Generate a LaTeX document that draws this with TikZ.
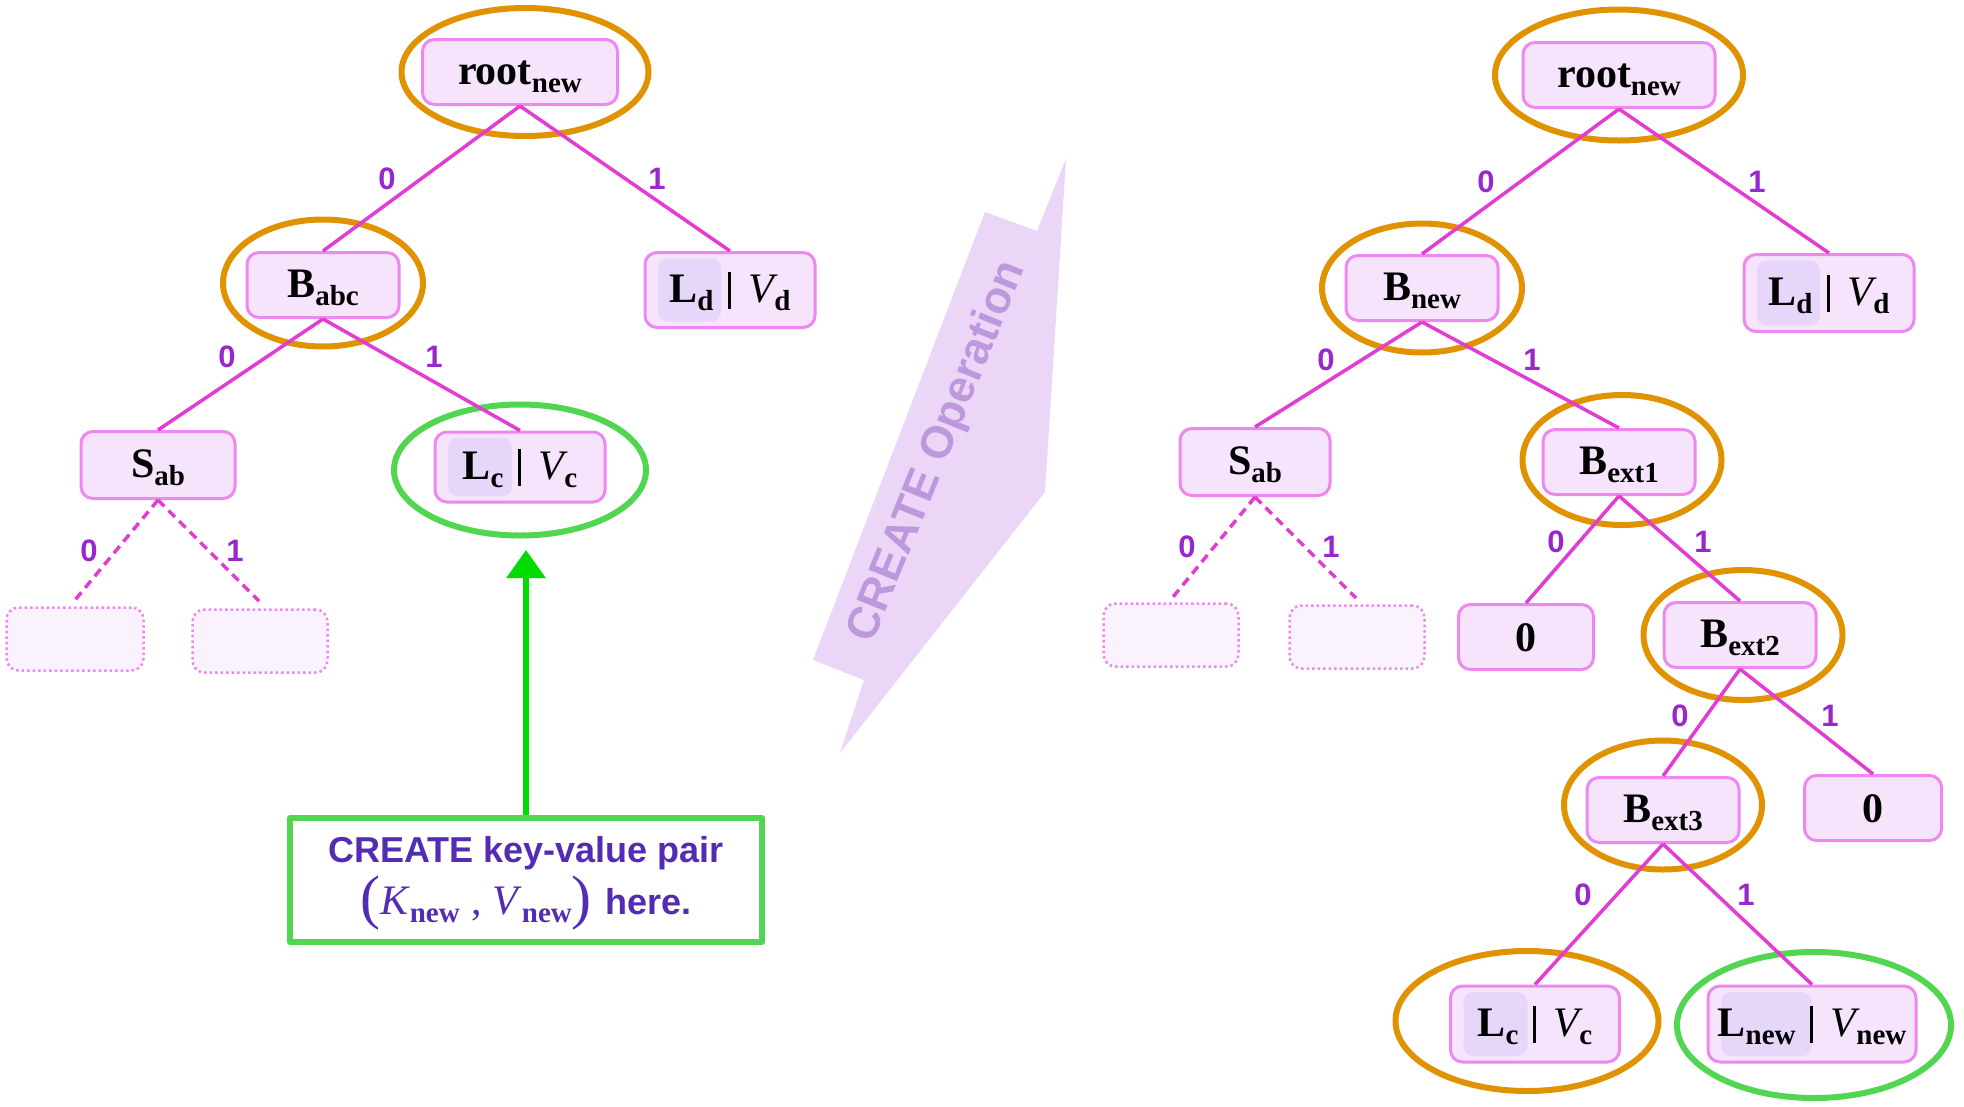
\documentclass[tikz,border=0pt]{standalone}
\usepackage{fontspec}
\setmainfont{Liberation Serif}
\setsansfont{Liberation Sans}
\usetikzlibrary{shapes.geometric,arrows.meta}
\definecolor{boxfill}{RGB}{246,228,252}
\definecolor{boxline}{RGB}{238,136,240}
\definecolor{shadecol}{RGB}{230,214,250}
\definecolor{edgecol}{RGB}{226,60,210}
\definecolor{labcol}{RGB}{152,40,204}
\definecolor{ringor}{RGB}{224,146,0}
\definecolor{ringgr}{RGB}{82,214,82}
\definecolor{arrowgr}{RGB}{0,220,0}
\definecolor{ghostfill}{RGB}{250,242,254}
\definecolor{createfill}{RGB}{235,214,248}
\definecolor{createtext}{RGB}{190,152,220}
\definecolor{notetext}{RGB}{84,44,180}
\newcommand\mysub[1]{\raisebox{-8pt}{\fontsize{29}{29}\selectfont #1}}
\newcommand\lvbar{\hspace{14pt}\rule[-7pt]{3.2pt}{37pt}\hspace{18pt}}
\tikzset{
  tbox/.style={rounded corners=12pt, fill=boxfill, draw=boxline, line width=3pt,
    minimum width=152pt, minimum height=65pt, inner sep=0pt,
    text height=28pt, text depth=4pt, font=\fontsize{42}{50}\selectfont\bfseries},
  lbox/.style={tbox, minimum width=170pt, minimum height=75pt,
    path picture={\fill[shadecol,rounded corners=10pt]
      ([xshift=13pt,yshift=-6pt]path picture bounding box.north west) rectangle
      ([xshift=#1,yshift=6pt]path picture bounding box.south west);}},
  ghost/.style={rounded corners=12pt, fill=ghostfill, draw=boxline, line width=2.5pt,
    dash pattern=on 2.5pt off 3pt, minimum width=135pt, minimum height=63pt},
  ring/.style={ellipse, draw=ringor, line width=6pt, inner sep=0pt},
  gring/.style={ring, draw=ringgr},
  link/.style={draw=edgecol, line width=3.5pt},
  dlink/.style={link, dash pattern=on 9pt off 6pt},
  lab/.style={text=labcol, font=\sffamily\bfseries\fontsize{31}{31}\selectfont, inner sep=0pt}
}
\begin{document}
\begin{tikzpicture}[x=1pt,y=-1pt]
\fill[white] (0,0) rectangle (1964,1106);
\useasboundingbox (0,0) rectangle (1964,1106);

% CREATE operation arrow
\fill[createfill] (1066,159) -- (1045,492) -- (840,753) -- (864,680) -- (813,660) -- (985,212) -- (1037,231) -- cycle;
\node[rotate=68, text=createtext, font=\sffamily\bfseries\fontsize{45}{45}\selectfont] (ctext) at (938,452) {CREATE Operation};

% ---------------- left tree ----------------
\node[tbox, minimum width=195pt] (Lroot) at (520,72) {root\mysub{new}};
\node[tbox] (LBabc) at (323,285) {B\mysub{abc}};
\node[lbox=76pt] (LLd) at (730,290) {L\mysub{d}\lvbar{\mdseries\itshape V}\mysub{d}};
\node[tbox, minimum width=154pt, minimum height=67pt] (LSab) at (158,465) {S\mysub{ab}};
\node[lbox=77pt, minimum height=70pt] (LLc) at (520,467) {L\mysub{c}\lvbar{\mdseries\itshape V}\mysub{c}};
\node[ghost, minimum width=137pt] (Lg1) at (75,639) {};
\node[ghost] (Lg2) at (260,641) {};

\node[ring, minimum width=247pt, minimum height=128pt] (LrRoot) at (525,72) {};
\node[ring, minimum width=200pt, minimum height=127pt] (LrB) at (323,283) {};
\node[gring, minimum width=252pt, minimum height=131pt] (LrLc) at (520,470) {};

\draw[link] (Lroot.south) -- (LBabc.north);
\draw[link] (Lroot.south) -- (LLd.north);
\draw[link] (LBabc.south) -- (LSab.north);
\draw[link] (LBabc.south) -- (LLc.north);
\coordinate (Lg1t) at (75,600);
\coordinate (Lg2t) at (259,601);
\draw[dlink] (LSab.south) -- (Lg1t);
\draw[dlink] (LSab.south) -- (Lg2t);

\node[lab] (la1) at (387,179) {0};
\node[lab] (la2) at (657,179) {1};
\node[lab] (la3) at (227,357) {0};
\node[lab] (la4) at (434,357) {1};
\node[lab] (la5) at (89,551) {0};
\node[lab] (la6) at (235,551) {1};

% note box and arrow
\node[draw=ringgr, line width=6pt, line join=round, minimum width=472pt, minimum height=124pt,
  align=center, text=notetext, inner sep=0pt, font=\fontsize{36}{52}\selectfont] (note) at (526,880)
  {{\sffamily\bfseries CREATE key-value pair}\\
   {\fontsize{42}{52}\selectfont\raisebox{-3pt}[0pt][0pt]{\fontsize{60}{60}\selectfont(}\textit{K}\mysub{\bfseries new}\hspace{12pt},\hspace{10pt}\textit{V}\mysub{\bfseries new}\raisebox{-3pt}[0pt][0pt]{\fontsize{60}{60}\selectfont)}}\hspace{14pt}{\sffamily\bfseries here.}};
\coordinate (tipL) at (526,550);
\draw[draw=arrowgr, line width=6pt, -{Triangle[width=38pt,length=28pt]}] (note.north) -- (tipL);

% ---------------- right tree ----------------
\node[tbox, minimum width=192pt] (Rroot) at (1619,75) {root\mysub{new}};
\node[tbox] (RBnew) at (1422,288) {B\mysub{new}};
\node[lbox=76pt, minimum height=77pt] (RLd) at (1829,293) {L\mysub{d}\lvbar{\mdseries\itshape V}\mysub{d}};
\node[tbox, minimum width=150pt, minimum height=67pt] (RSab) at (1255,462) {S\mysub{ab}};
\node[tbox] (RBe1) at (1619,462) {B\mysub{ext1}};
\node[ghost] (Rg1) at (1171,635) {};
\node[ghost] (Rg2) at (1357,637) {};
\node[tbox, minimum width=135pt, text depth=0pt] (Rz1) at (1526,637) {0};
\node[tbox] (RBe2) at (1740,635) {B\mysub{ext2}};
\node[tbox] (RBe3) at (1663,810) {B\mysub{ext3}};
\node[tbox, minimum width=137pt, text depth=0pt] (Rz2) at (1873,808) {0};
\node[lbox=77pt, minimum width=169pt, minimum height=76pt] (RLc) at (1535,1024) {L\mysub{c}\lvbar{\mdseries\itshape V}\mysub{c}};
\node[lbox=104pt, minimum width=208pt, minimum height=76pt] (RLnew) at (1812,1024) {L\mysub{new}\lvbar{\mdseries\itshape V}\mysub{new}};

\node[ring, minimum width=248pt, minimum height=131pt] (RrRoot) at (1619,75) {};
\node[ring, minimum width=200pt, minimum height=129pt] (RrB) at (1422,288) {};
\node[ring, minimum width=199pt, minimum height=130pt] (RrE1) at (1622,460) {};
\node[ring, minimum width=199pt, minimum height=130pt] (RrE2) at (1743,635) {};
\node[ring, minimum width=198pt, minimum height=129pt] (RrE3) at (1663,805) {};
\node[ring, minimum width=263pt, minimum height=140pt] (RrLc) at (1527,1021) {};
\node[gring, minimum width=274pt, minimum height=146pt] (RrLnew) at (1814,1025) {};

\draw[link] (Rroot.south) -- (RBnew.north);
\draw[link] (Rroot.south) -- (RLd.north);
\draw[link] (RBnew.south) -- (RSab.north);
\draw[link] (RBnew.south) -- (RBe1.north);
\draw[link] (RBe1.south) -- (Rz1.north);
\draw[link] (RBe1.south) -- (RBe2.north);
\draw[link] (RBe2.south) -- (RBe3.north);
\draw[link] (RBe2.south) -- (Rz2.north);
\draw[link] (RBe3.south) -- (RLc.north);
\draw[link] (RBe3.south) -- (RLnew.north);
\coordinate (Rg1t) at (1173,597);
\coordinate (Rg2t) at (1356,598);
\draw[dlink] (RSab.south) -- (Rg1t);
\draw[dlink] (RSab.south) -- (Rg2t);

\node[lab] (ra1) at (1486,182) {0};
\node[lab] (ra2) at (1757,182) {1};
\node[lab] (ra3) at (1326,360) {0};
\node[lab] (ra4) at (1532,360) {1};
\node[lab] (ra5) at (1187,547) {0};
\node[lab] (ra6) at (1331,547) {1};
\node[lab] (ra7) at (1556,542) {0};
\node[lab] (ra8) at (1703,542) {1};
\node[lab] (ra9) at (1680,716) {0};
\node[lab] (ra10) at (1830,716) {1};
\node[lab] (ra11) at (1583,895) {0};
\node[lab] (ra12) at (1746,895) {1};
\end{tikzpicture}
\end{document}
